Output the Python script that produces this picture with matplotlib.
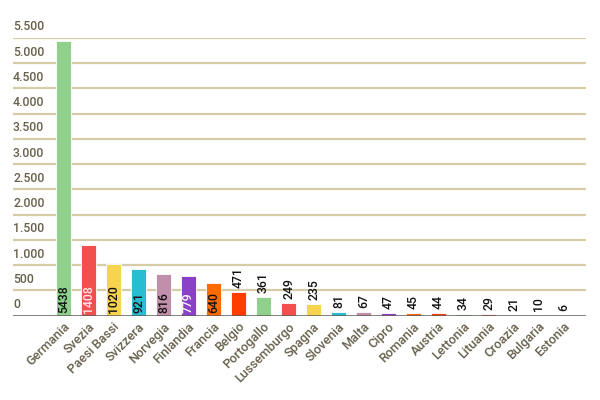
import matplotlib
matplotlib.use("Agg")
import matplotlib.pyplot as plt
from matplotlib.transforms import offset_copy

countries = ["Germania", "Svezia", "Paesi Bassi", "Svizzera", "Norvegia", "Finlandia",
             "Francia", "Belgio", "Portogallo", "Lussemburgo", "Spagna", "Slovenia",
             "Malta", "Cipro", "Romania", "Austria", "Lettonia", "Lituania", "Croazia",
             "Bulgaria", "Estonia"]
values = [5438, 1408, 1020, 921, 816, 779, 640, 471, 361, 249, 235, 81, 67, 47, 45,
          44, 34, 29, 21, 10, 6]
yticks = [0, 500, 1000, 1500, 2000, 2500, 3000, 3500, 4000, 4500, 5000, 5500]
ytick_labels = ["0", "500", "1.000", "1.500", "2.000", "2.500", "3.000", "3.500",
                "4.000", "4.500", "5.000", "5.500"]

palette = ["#8fd08c", "#f2504f", "#f7d450", "#29bdd2", "#c08fa9", "#8b40c8",
           "#ff6b00", "#ff3d00"]
label_colors = ["#111111", "#ffe8e8", "#111111", "#111111", "#111111", "#ffffff",
                "#111111", "#111111"]

plt.rcParams['font.family'] = ['Roboto', 'DejaVu Sans']

fig = plt.figure(figsize=(6, 4), dpi=100)
ax = fig.add_axes([13 / 600, 84.3 / 400, 573 / 600, 277.7 / 400])

x = list(range(len(values)))
colors = [palette[i % len(palette)] for i in x]
ax.bar(x, values, width=0.6, color=colors, edgecolor="#ffffff", linewidth=0.6,
       zorder=3)

ax.set_xlim(-2.02, 20.9)
ax.set_ylim(0, 5500)

grid_color = "#d6cca8"
tick_color = "#66604a"
for t, lab in zip(yticks, ytick_labels):
    if t > 0:
        ax.axhline(t, color=grid_color, linewidth=1.6, zorder=1)
    ax.text(-2.02, t + 90, lab, ha="left", va="bottom", fontsize=8.8,
            color=tick_color, fontweight="medium", clip_on=False)
ax.axhline(0, color="#5c5c58", linewidth=1.8, zorder=4)

for i, v in enumerate(values):
    if v >= 600:
        ax.text(i, 60, str(v), rotation=90, ha="center", va="bottom", fontsize=8.8,
                color=label_colors[i % len(label_colors)], fontweight="medium",
                zorder=5)
    else:
        ax.text(i, v + 80, str(v), rotation=90, ha="center", va="bottom",
                fontsize=8.8, color="#111111", fontweight="medium", zorder=5)

for i, name in enumerate(countries):
    tr = offset_copy(ax.get_xaxis_transform(), fig=fig, x=4, y=-9, units="dots")
    ax.text(i, 0, name, transform=tr, rotation=45, ha="right", va="center",
            rotation_mode="anchor", fontsize=9.2, color=tick_color,
            fontweight="medium", clip_on=False)

ax.set_xticks([])
ax.set_yticks([])
for s in ax.spines.values():
    s.set_visible(False)

fig.savefig("out.png", dpi=100, facecolor="white")
